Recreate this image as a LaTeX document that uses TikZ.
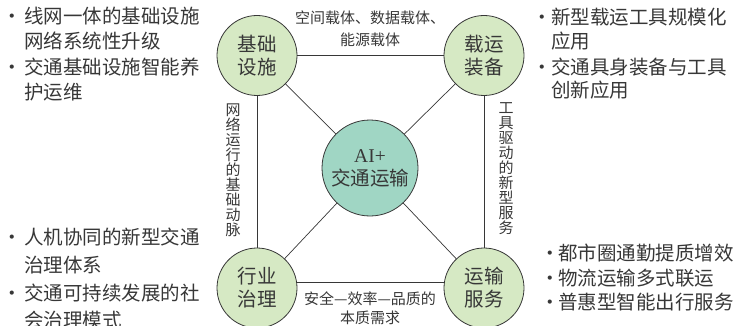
\documentclass[tikz,border=0pt]{standalone}
\usepackage{fontspec}
\setmainfont{Noto Sans CJK SC}
\newfontfamily\aifont{Liberation Serif}
\definecolor{nodegreen}{RGB}{214,233,196}
\definecolor{coreteal}{RGB}{160,214,196}
\definecolor{inkgray}{RGB}{55,55,55}
\lineskiplimit=-8pt\relax
\begin{document}
\begin{tikzpicture}[x=1pt,y=-1pt,
  hub/.style={circle, draw=inkgray, line width=0.8pt, fill=nodegreen, minimum size=80pt, inner sep=0pt, align=center, font=\fontsize{19.5}{23}\selectfont, text=inkgray},
  core/.style={hub, fill=coreteal, minimum size=96pt},
  link/.style={draw=inkgray, line width=0.7pt},
  linklabel/.style={font=\fontsize{15}{22}\selectfont, text=inkgray, align=center, inner sep=0pt},
  vlabel/.style={font=\fontsize{15}{15}\selectfont, text=inkgray, align=center, inner sep=0pt},
  btext/.style={font=\fontsize{19.5}{25}\selectfont, text=inkgray, anchor=west, inner sep=0pt, text height=0.86em, text depth=0.14em},
  bmark/.style={btext, anchor=center}
]
\useasboundingbox (0,0) rectangle (738,326);

% hubs
\node[hub] (tl) at (257,55.5) {基础\\设施};
\node[hub] (tr) at (484,55.5) {载运\\装备};
\node[hub] (bl) at (257,288) {行业\\治理};
\node[hub] (br) at (484,288) {运输\\服务};
\node[core] (c) at (370,168) {{\aifont AI+}\\交通运输};

% connectors
\draw[link] (tl) -- (tr);
\draw[link] (bl.8) -- (br.172);
\draw[link] (tl) -- (bl);
\draw[link] (tr) -- (br);
\draw[link] (tl) -- (c);
\draw[link] (tr) -- (c);
\draw[link] (bl) -- (c);
\draw[link] (br) -- (c);

% connector labels
\node[linklabel] (ltop) at (370,29) {空间载体、数据载体、\\能源载体};
\node[linklabel, font=\fontsize{15}{19}\selectfont] (lbot) at (370,308.5) {安全—效率—品质的\\本质需求};
\node[vlabel] (lleft) at (233,170) {网\\络\\运\\行\\的\\基\\础\\动\\脉};
\node[vlabel] (lright) at (506,169) {工\\具\\驱\\动\\的\\新\\型\\服\\务};

% top-left bullets
\node[bmark] (m1) at (12,20) {・};
\node[btext] (t1) at (24,20) {线网一体的基础设施};
\node[btext] (t2) at (24,45) {网络系统性升级};
\node[bmark] (m2) at (12,71) {・};
\node[btext] (t3) at (24,71) {交通基础设施智能养};
\node[btext] (t4) at (24,96) {护运维};

% top-right bullets
\node[bmark] (m3) at (542,21) {・};
\node[btext] (t5) at (551,21) {新型载运工具规模化};
\node[btext] (t6) at (551,45) {应用};
\node[bmark] (m4) at (542,71) {・};
\node[btext] (t7) at (551,71) {交通具身装备与工具};
\node[btext] (t8) at (551,94) {创新应用};

% bottom-left bullets
\node[bmark] (m5) at (12,241) {・};
\node[btext] (t9) at (24,241) {人机协同的新型交通};
\node[btext] (t10) at (24,269) {治理体系};
\node[bmark] (m6) at (12,297) {・};
\node[btext] (t11) at (24,297) {交通可持续发展的社};
\node[btext] (t12) at (24,324) {会治理模式};

% bottom-right bullets
\node[bmark] (m7) at (550,257) {・};
\node[btext] (t13) at (558,257) {都市圈通勤提质增效};
\node[bmark] (m8) at (550,282) {・};
\node[btext] (t14) at (558,282) {物流运输多式联运};
\node[bmark] (m9) at (550,306) {・};
\node[btext] (t15) at (558,306) {普惠型智能出行服务};
\end{tikzpicture}
\end{document}
